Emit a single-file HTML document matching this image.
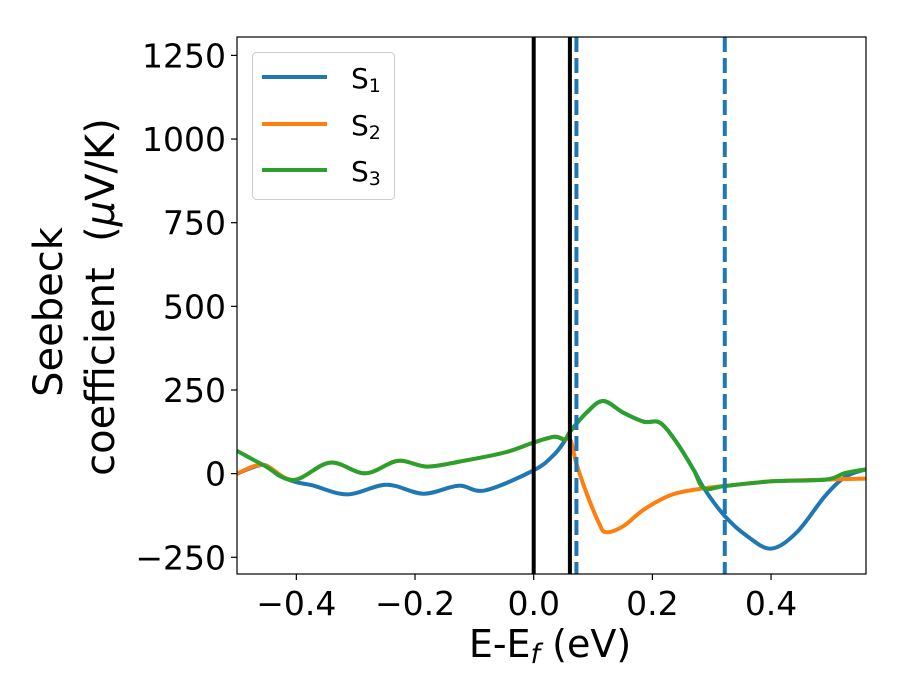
<!DOCTYPE html>
<html><head><meta charset="utf-8"><style>
html,body{margin:0;padding:0;background:#fff;}
svg{display:block;font-family:"DejaVu Sans","Liberation Sans",sans-serif;}
</style></head><body>
<svg id="chart" width="900" height="700" viewBox="0 0 900 700" xmlns="http://www.w3.org/2000/svg">
<rect width="900" height="700" fill="#fff"/>
<g id="plot"></g>
<g id="axes"></g>
<text transform="translate(62,312) rotate(-90)" text-anchor="middle" font-size="40">Seebeck</text>
<text transform="translate(114,297) rotate(-90)" text-anchor="middle" font-size="40" xml:space="preserve">coefficient  (<tspan font-style="italic">μ</tspan>V/K)</text>
<text x="550" y="657" text-anchor="middle" font-size="38">E-E<tspan font-size="27" font-style="italic" dy="6">f</tspan><tspan dy="-6"> (eV)</tspan></text>
<g>
<rect x="252.5" y="52.5" width="142" height="147" rx="4" fill="#fff" stroke="#ccc" stroke-width="1"/>
<line x1="262" y1="77" x2="327" y2="77" stroke="#1f77b4" stroke-width="4"/>
<text x="351" y="88" font-size="28">S<tspan font-size="19" dy="4">1</tspan></text>
<line x1="262" y1="124" x2="327" y2="124" stroke="#ff7f0e" stroke-width="4"/>
<text x="351" y="135" font-size="28">S<tspan font-size="19" dy="4">2</tspan></text>
<line x1="262" y1="170" x2="327" y2="170" stroke="#2ca02c" stroke-width="4"/>
<text x="351" y="181" font-size="28">S<tspan font-size="19" dy="4">3</tspan></text>
</g>
</svg>
<script>
const xTicks = [-0.4, -0.2, 0.0, 0.2, 0.4];
const xTickLabels = ["\u22120.4", "\u22120.2", "0.0", "0.2", "0.4"];
const yTicks = [-250, 0, 250, 500, 750, 1000, 1250];
const yTickLabels = ["\u2212250", "0", "250", "500", "750", "1000", "1250"];
const solidLines = [0.0, 0.061];
const dashedLines = [0.072, 0.322];
const s1X = [-0.5,-0.456,-0.43,-0.401,-0.373,-0.314,-0.248,-0.186,-0.127,-0.082,0.0,0.035,0.055,0.062,0.089,0.117,0.151,0.186,0.213,0.241,0.269,0.287,0.322,0.36,0.4,0.443,0.491,0.525,0.56];
const s1Y = [0,26,-5,-25,-35,-62,-33,-60,-36,-50,10,58,105,127,182,217,182,155,152,93,13,-44,-127,-187,-224,-176,-67,-10,13];
const s2X = [-0.5,-0.456,-0.405,-0.343,-0.284,-0.229,-0.18,-0.125,-0.049,0.0,0.035,0.052,0.062,0.072,0.089,0.11,0.122,0.151,0.186,0.234,0.287,0.322,0.401,0.491,0.525,0.56];
const s2Y = [0,26,-19,33,1,38,21,36,63,93,110,102,100,30,-58,-148,-175,-157,-107,-62,-44,-37,-23,-18,-16,-15];
const s3X = [-0.5,-0.456,-0.405,-0.343,-0.284,-0.229,-0.18,-0.125,-0.049,0.0,0.035,0.052,0.062,0.089,0.117,0.151,0.186,0.213,0.241,0.269,0.287,0.322,0.401,0.491,0.525,0.56];
const s3Y = [68,26,-19,33,1,38,21,36,63,93,110,102,127,182,217,182,155,152,93,13,-44,-37,-23,-18,2,13];

const X0=237, X1=866, Y0=574, Y1=37, xmin=-0.5, xmax=0.56, ymin=-300, ymax=1305;
const sx = v => X0 + (v - xmin) / (xmax - xmin) * (X1 - X0);
const sy = v => Y0 - (v - ymin) / (ymax - ymin) * (Y0 - Y1);
const NS = "http://www.w3.org/2000/svg";
const plot = document.getElementById('plot');
const axes = document.getElementById('axes');
function mk(tag, attrs, parent){ const e=document.createElementNS(NS,tag); for(const k in attrs) e.setAttribute(k,attrs[k]); parent.appendChild(e); return e; }
function pathFor(xs, ys){
  const p = xs.map((x,i)=>[sx(x), sy(ys[i])]);
  let d = "M"+p[0][0].toFixed(1)+","+p[0][1].toFixed(1);
  for(let i=0;i<p.length-1;i++){
    const a=p[Math.max(0,i-1)], b=p[i], c=p[i+1], e=p[Math.min(p.length-1,i+2)];
    const c1=[b[0]+(c[0]-a[0])/6, b[1]+(c[1]-a[1])/6], c2=[c[0]-(e[0]-b[0])/6, c[1]-(e[1]-b[1])/6];
    d += " C"+c1[0].toFixed(1)+","+c1[1].toFixed(1)+" "+c2[0].toFixed(1)+","+c2[1].toFixed(1)+" "+c[0].toFixed(1)+","+c[1].toFixed(1);
  }
  return d;
}
mk('clipPath',{id:'clip'},plot).appendChild(document.createElementNS(NS,'rect'));
const cr = plot.querySelector('clipPath rect');
cr.setAttribute('x',X0); cr.setAttribute('y',Y1); cr.setAttribute('width',X1-X0); cr.setAttribute('height',Y0-Y1);
const g = mk('g',{'clip-path':'url(#clip)'},plot);
const series = [[s1X,s1Y,'#1f77b4','series-s1'],[s2X,s2Y,'#ff7f0e','series-s2'],[s3X,s3Y,'#2ca02c','series-s3']];
series.forEach(s=>{
  const el = mk('path',{d:pathFor(s[0],s[1]),fill:'none',stroke:s[2],'stroke-width':4,'stroke-linejoin':'round'},g);
  
  
});
solidLines.forEach(v=>{
  const el = mk('line',{x1:sx(v),x2:sx(v),y1:Y1,y2:Y0,stroke:'#000','stroke-width':4},g);
  
  
});
dashedLines.forEach(v=>{
  const el = mk('line',{x1:sx(v),x2:sx(v),y1:Y1,y2:Y0,stroke:'#1f77b4','stroke-width':4,'stroke-dasharray':'15,6'},g);
  
  
});
const frame = mk('rect',{x:X0,y:Y1,width:X1-X0,height:Y0-Y1,fill:'none',stroke:'#000','stroke-width':1.2},axes);


xTicks.forEach((v,i)=>{
  const t = mk('line',{x1:sx(v),x2:sx(v),y1:Y0,y2:Y0+6,stroke:'#000','stroke-width':1.2},axes);
  
  
  const l = mk('text',{x:sx(v),y:Y0+41,'text-anchor':'middle','font-size':33},axes);
  l.textContent = xTickLabels[i];
  
  
});
yTicks.forEach((v,i)=>{
  const t = mk('line',{x1:X0-6,x2:X0,y1:sy(v),y2:sy(v),stroke:'#000','stroke-width':1.2},axes);
  
  
  const l = mk('text',{x:X0-11,y:sy(v)+12,'text-anchor':'end','font-size':33},axes);
  l.textContent = yTickLabels[i];
  
  
});
</script>
</body></html>
